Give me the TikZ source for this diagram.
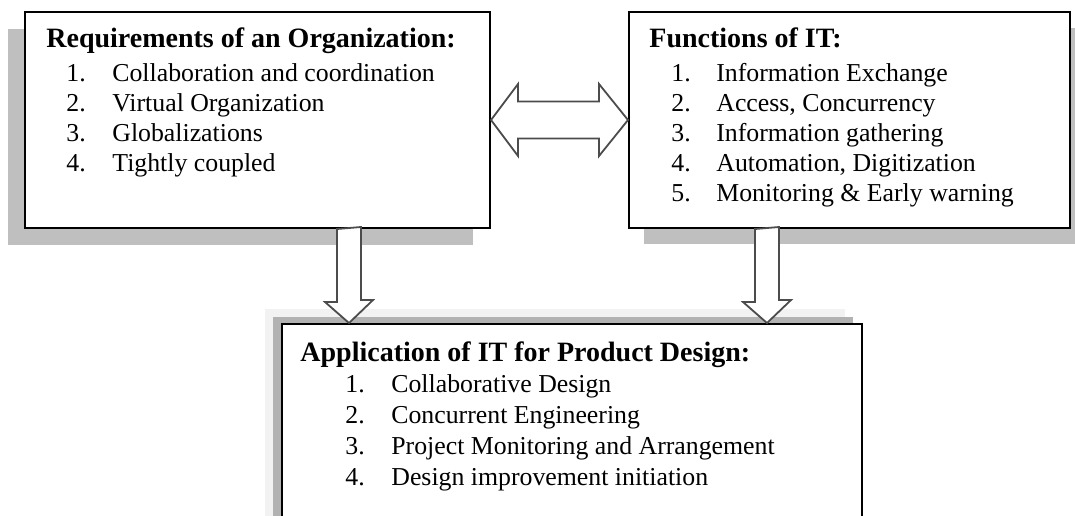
\documentclass[tikz,border=0pt]{standalone}
\usepackage{fontspec}
\setmainfont{Liberation Serif}
\usetikzlibrary{calc}
\usetikzlibrary{shadows}

\tikzset{
    box/.style={draw=black, line width=1pt, fill=white, inner sep=0pt},
    title/.style={font=\fontsize{14}{16}\selectfont\bfseries, inner sep=0pt, anchor=base west},
    item/.style={font=\fontsize{12.9}{15}\selectfont, inner sep=0pt, anchor=base west},
    blockarrow/.style={draw=black!70, line width=0.9pt, fill=white, line join=miter},
}

\begin{document}
\begin{tikzpicture}[x=0.5pt,y=-0.5pt]
                \useasboundingbox (0,0) rectangle (1075,515);
                \clip (0,0) rectangle (1075,515);
                % the three boxes
                \node[box, minimum width=232.5pt, minimum height=108pt,
                    drop shadow={shadow xshift=-8.5pt, shadow yshift=-8.5pt, fill=black!25, opacity=1}] (req) at (257.5,120) {};
                \node[box, minimum width=220.5pt, minimum height=108pt,
                    drop shadow={shadow xshift=7.5pt, shadow yshift=-8pt, fill=black!25, opacity=1}] (fun) at (849.5,120) {};
                \node[box, minimum width=290pt, minimum height=123pt,
                    drop shadow={shadow xshift=-8.5pt, shadow yshift=7.5pt, fill=black!5, opacity=1},
                    drop shadow={shadow xshift=-4.5pt, shadow yshift=3.5pt, fill=black!30, opacity=1}] (app) at (572,447) {};
                % texts
                \node[title] (reqT) at ([shift={(22,36)}]req.north west) {Requirements of an Organization:};
                \foreach \t [count=\i] in {Collaboration and coordination, Virtual Organization, Globalizations, Tightly coupled}
                    \node[item] (req\i) at ([shift={(42,40+30*\i)}]req.north west) {\makebox[23pt][l]{\i.}\t};
                \node[title] (funT) at ([shift={(21,36)}]fun.north west) {Functions of IT:};
                \foreach \t [count=\i] in {Information Exchange, {Access, Concurrency}, Information gathering, {Automation, Digitization}, Monitoring \& Early warning}
                    \node[item] (fun\i) at ([shift={(43,40+30*\i)}]fun.north west) {\makebox[22.5pt][l]{\i.}\t};
                \node[title] (appT) at ([shift={(19,38)}]app.north west) {Application of IT for Product Design:};
                \foreach \t [count=\i] in {Collaborative Design, Concurrent Engineering, Project Monitoring and Arrangement, Design improvement initiation}
                    \node[item] (app\i) at ([shift={(64,38+31*\i)}]app.north west) {\makebox[23pt][l]{\i.}\t};
                % block arrows
                \draw[blockarrow] (req.east) -- ++(27,-36) -- ++(0,17.5)
                    -- ($(fun.west)+(-29,-18.5)$) -- ++(0,-17.5) -- (fun.west)
                    -- ++(-29,36) -- ++(0,-17.5) -- ($(req.east)+(27,18.5)$) -- ++(0,17.5) -- cycle;
                \draw[blockarrow] ($(req.south west)+(313,0)$) -- ++(0,73) -- ++(-12,0)
                    -- ($(app.north west)+(68,0)$) -- ++(24,-23) -- ++(-12,0) -- ++(0,-73) -- cycle;
                \draw[blockarrow] ($(fun.south west)+(127,0)$) -- ++(0,73) -- ++(-12,0)
                    -- ($(app.north west)+(486,0)$) -- ++(24,-23) -- ++(-12,0) -- ++(0,-73) -- cycle;
            \end{tikzpicture}
\end{document}
